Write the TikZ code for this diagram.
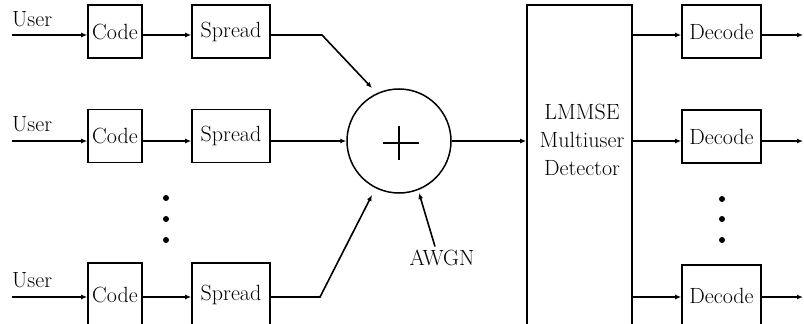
\documentclass[tikz,border=0pt]{standalone}
\usetikzlibrary{arrows.meta}
\begin{document}
\begin{tikzpicture}[x=1pt,y=-1pt,
  every node/.style={font=\fontsize{22}{28}\selectfont},
  blk/.style={draw, line width=1.6pt, inner sep=0pt, minimum height=53pt},
  codebox/.style={blk, minimum width=54pt},
  spreadbox/.style={blk, minimum width=78pt},
  decbox/.style={blk, minimum width=79pt},
  conn/.style={line width=1.6pt},
  arr/.style={conn, -{Latex[length=6pt,width=5pt]}},
  dot/.style={circle, fill, inner sep=0pt, minimum size=6pt}
]
\clip (0,0) rectangle (804,324);
\useasboundingbox (0,0) rectangle (804,324);
% row coordinates
\coordinate (r1) at (0,35);
\coordinate (r2) at (0,141);
\coordinate (r3) at (0,297);
% users
\node[anchor=base west, inner sep=0pt] (u1) at (12,27) {User};
\node[anchor=base west, inner sep=0pt] (u2) at (12,131) {User};
\node[anchor=base west, inner sep=0pt] (u3) at (12,287) {User};
\coordinate (s1) at (12,35);
\coordinate (s2) at (12,141);
\coordinate (s3) at (12,297);
% code boxes
\node[codebox] (c1) at (115,31.5) {Code};
\node[codebox] (c2) at (115,136) {Code};
\node[codebox, minimum height=64pt] (c3) at (115,295) {Code};
% spread boxes
\node[spreadbox] (p1) at (231,31.5) {Spread};
\node[spreadbox] (p2) at (231,136) {Spread};
\node[spreadbox, minimum height=64pt] (p3) at (231,295) {Spread};
% dots left
\node[dot] (dl1) at (166,198) {};
\node[dot] (dl2) at (166,219) {};
\node[dot] (dl3) at (166,240) {};
% summer
\node[circle, draw, line width=1.5pt, minimum size=104pt, inner sep=0pt] (sum) at (399,141) {};
\draw[line width=1.5pt] ([xshift=-16pt,yshift=-2pt]sum.center) -- ([xshift=20pt,yshift=-2pt]sum.center);
\draw[line width=1.5pt] ([yshift=-19pt]sum.center) -- ([yshift=15pt]sum.center);
\coordinate (k1) at (322,35);
\coordinate (t1) at (372,88);
\coordinate (k3) at (320,297);
\coordinate (t3) at (372,195);
\coordinate (t4) at (419,193);
\node (awgn) at (442,258) {AWGN};
% detector
\node[draw, line width=1.6pt, minimum width=105pt, minimum height=325pt, inner sep=0pt] (det) at (579.5,167.5) {};
\node[align=center, inner sep=0pt] (dett) at (582,140) {LMMSE\\Multiuser\\Detector};
% decode boxes
\node[decbox] (d1) at (721.5,31.5) {Decode};
\node[decbox] (d2) at (721.5,136.5) {Decode};
\node[decbox, minimum height=62pt] (d3) at (721.5,296) {Decode};
\node[dot] (dr1) at (722,199) {};
\node[dot] (dr2) at (722,219) {};
\node[dot] (dr3) at (722,240) {};
\coordinate (o1) at (803,35);
\coordinate (o2) at (803,141);
\coordinate (o3) at (803,297);
% connectors
\foreach \i in {1,2,3}{
  \draw[arr] (s\i) -- (c\i.west |- r\i);
  \draw[arr] (c\i.east |- r\i) -- (p\i.west |- r\i);
  \draw[arr] (det.east |- r\i) -- (d\i.west |- r\i);
  \draw[arr] (d\i.east |- r\i) -- (o\i);
}
\draw[arr] (p1.east |- r1) -- (k1) -- (t1);
\draw[arr] (p2.east |- r2) -- (sum.west);
\draw[arr] (p3.east |- r3) -- (k3) -- (t3);
\draw[arr] ([xshift=-7pt]awgn.north) -- (t4);
\draw[arr] (sum.east) -- (det.west |- sum.east);
\end{tikzpicture}
\end{document}
